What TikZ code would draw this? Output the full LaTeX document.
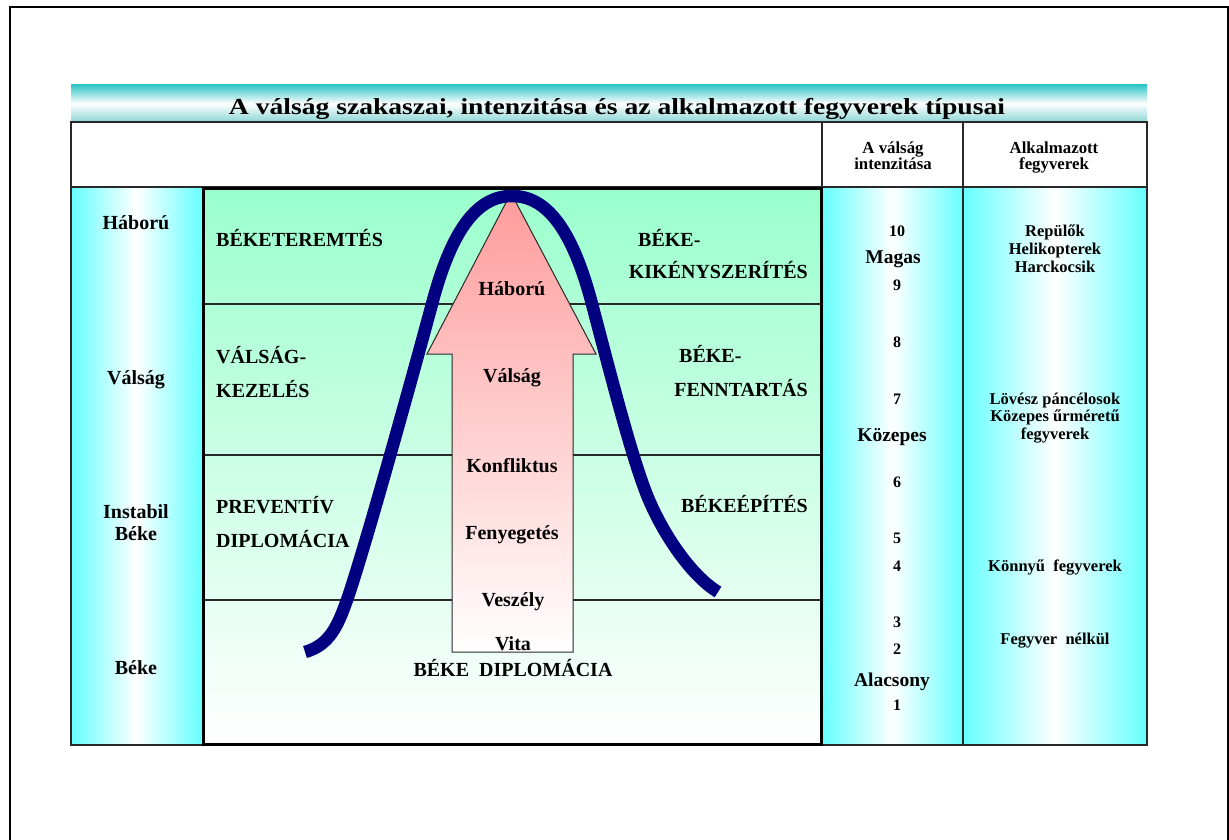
\documentclass[tikz,border=0pt]{standalone}
\usepackage{fontspec}
\setmainfont{Liberation Serif}
\usepackage{graphicx}
\usetikzlibrary{shadings}
\definecolor{cyanc}{RGB}{102,255,255}
\definecolor{teal1}{RGB}{51,199,199}
\definecolor{teal2}{RGB}{140,214,214}
\definecolor{mint}{RGB}{153,255,204}
\definecolor{navyc}{RGB}{0,0,128}
\definecolor{pinkc}{RGB}{255,155,155}
\definecolor{linec}{RGB}{40,40,40}
\tikzset{
  lbl/.style={font=\bfseries\fontsize{20}{22}\selectfont, inner sep=0pt, text=black},
  num/.style={font=\bfseries\fontsize{16}{18}\selectfont, inner sep=0pt, anchor=base},
  wpn/.style={font=\bfseries\fontsize{16.5}{18}\selectfont, inner sep=0pt, anchor=base},
  lvl/.style={font=\bfseries\fontsize{19.5}{22}\selectfont, inner sep=0pt, anchor=base},
  hdr/.style={font=\bfseries\fontsize{16.8}{18}\selectfont, inner sep=0pt, anchor=base},
  gridline/.style={draw=linec, line width=1.2pt},
}
\begin{document}
\begin{tikzpicture}[x=1pt,y=-1pt]
\useasboundingbox (0,0) rectangle (1229,840);
% outer frame
\draw[line width=2pt] (10,841) -- (10,7) -- (1227.5,7) -- (1227.5,841);
% title band
\shade[top color=teal1, bottom color=teal2, middle color=white] (71,85) rectangle (1147,122);
\node[font=\bfseries\fontsize{23}{26}\selectfont, inner sep=0pt, anchor=base] (title) at (617,115)
  {\scalebox{1.2}[1]{A válság szakaszai, intenzitása és az alkalmazott fegyverek típusai}};
% columns
\shade[left color=cyanc, right color=cyanc, middle color=white] (71,187) rectangle (202,745);
\shade[left color=cyanc, right color=cyanc, middle color=white] (822,187) rectangle (963,745);
\shade[left color=cyanc, right color=cyanc, middle color=white] (963,187) rectangle (1147,745);
\shade[top color=mint, bottom color=white] (202,187) rectangle (822,745);
% grid
\draw[gridline] (71,122) rectangle (1147,745);
\draw[gridline] (71,187) -- (1147,187);
\draw[gridline] (822,122) -- (822,745);
\draw[gridline] (963,122) -- (963,745);
\draw[gridline] (202,304) -- (822,304);
\draw[gridline] (202,455) -- (822,455);
\draw[gridline] (202,600) -- (822,600);
% arrow
\shade[top color=pinkc, bottom color=white, draw=linec, line width=1pt]
  (452,652) -- (452,354) -- (427,354) -- (511,193) -- (596,354) -- (573,354) -- (573,652) -- cycle;
% main box
\draw[line width=3pt] (203,188) rectangle (821,744);
% curve
\draw[navyc, line width=12.5pt]
  (305,652) .. controls (330,645) and (338,625) .. (347,600)
  .. controls (365,548) and (412,378) .. (432,304)
  .. controls (452,228) and (478,196) .. (512,196)
  .. controls (546,196) and (572,228) .. (592,304)
  .. controls (612,380) and (630,450) .. (645,490)
  .. controls (660,530) and (690,575) .. (718,592);
% header
\node[hdr] (h1a) at (893,153.5) {A válság};
\node[hdr] (h1b) at (893,170) {intenzitása};
\node[hdr] (h2a) at (1054,153.5) {Alkalmazott};
\node[hdr] (h2b) at (1054,170) {fegyverek};
% left column
\node[lbl, anchor=base] (lh) at (136,229) {Háború};
\node[lbl, anchor=base] (lv) at (136,384) {Válság};
\node[lbl, anchor=base] (li) at (136,518) {Instabil};
\node[lbl, anchor=base] (lib) at (136,540) {Béke};
\node[lbl, anchor=base] (lb) at (136,674) {Béke};
% main texts
\node[lbl, anchor=base west] (t1) at (216,246) {BÉKETEREMTÉS};
\node[lbl, anchor=base west] (t2) at (216,363) {VÁLSÁG-};
\node[lbl, anchor=base west] (t3) at (216,397) {KEZELÉS};
\node[lbl, anchor=base west] (t4) at (216,513) {PREVENTÍV};
\node[lbl, anchor=base west] (t5) at (216,547) {DIPLOMÁCIA};
\node[lbl, anchor=base west] (r1) at (638,246) {BÉKE-};
\node[lbl, anchor=base east] (r2) at (808,278) {KIKÉNYSZERÍTÉS};
\node[lbl, anchor=base west] (r3) at (679,362) {BÉKE-};
\node[lbl, anchor=base east] (r4) at (808,396) {FENNTARTÁS};
\node[lbl, anchor=base east] (r5) at (808,512) {BÉKEÉPÍTÉS};
\node[lbl, anchor=base] (bd) at (513,676) {BÉKE\ \ DIPLOMÁCIA};
% arrow texts
\node[lbl, anchor=base] (a1) at (512,295) {Háború};
\node[lbl, anchor=base] (a2) at (512,382) {Válság};
\node[lbl, anchor=base] (a3) at (512,472) {Konfliktus};
\node[lbl, anchor=base] (a4) at (512,539) {Fenyegetés};
\node[lbl, anchor=base] (a5) at (513,606) {Veszély};
\node[lbl, anchor=base] (a6) at (513,650) {Vita};
% intensity column
\node[num] (n10) at (897,236) {10};
\node[lvl] (mg) at (893,263) {Magas};
\node[num] (n9) at (897,290) {9};
\node[num] (n8) at (897,347) {8};
\node[num] (n7) at (897,404) {7};
\node[lvl] (kz) at (892,441) {Közepes};
\node[num] (n6) at (897,487) {6};
\node[num] (n5) at (897,543) {5};
\node[num] (n4) at (897,571) {4};
\node[num] (n3) at (897,627) {3};
\node[num] (n2) at (897,654) {2};
\node[lvl] (al) at (892,686) {Alacsony};
\node[num] (n1) at (897,710) {1};
% weapons column
\node[wpn] (w1) at (1055,236) {Repülők};
\node[wpn] (w2) at (1055,254) {Helikopterek};
\node[wpn] (w3) at (1055,272) {Harckocsik};
\node[wpn] (w4) at (1055,404) {Lövész páncélosok};
\node[wpn] (w5) at (1055,421.5) {Közepes űrméretű};
\node[wpn] (w6) at (1055,439) {fegyverek};
\node[wpn] (w7) at (1055,571.5) {Könnyű\ \ fegyverek};
\node[wpn] (w8) at (1055,644) {Fegyver\ \ nélkül};
\end{tikzpicture}
\end{document}
